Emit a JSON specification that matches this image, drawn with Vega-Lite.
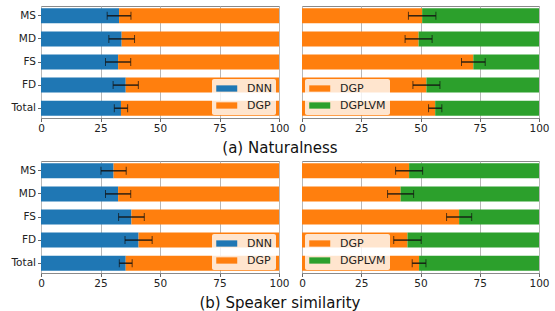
{
  "$schema": "https://vega.github.io/schema/vega-lite/v6.json",
  "padding": {"left": 10, "top": 5, "right": 10, "bottom": 3},
  "background": "white",
  "datasets": {
    "natL": [
      {"cat": "MS", "method": "DNN", "value": 32.8, "ord": 1}, {"cat": "MS", "method": "DGP", "value": 67.2, "ord": 2},
      {"cat": "MD", "method": "DNN", "value": 33.9, "ord": 1}, {"cat": "MD", "method": "DGP", "value": 66.1, "ord": 2},
      {"cat": "FS", "method": "DNN", "value": 32.4, "ord": 1}, {"cat": "FS", "method": "DGP", "value": 67.6, "ord": 2},
      {"cat": "FD", "method": "DNN", "value": 35.6, "ord": 1}, {"cat": "FD", "method": "DGP", "value": 64.4, "ord": 2},
      {"cat": "Total", "method": "DNN", "value": 33.6, "ord": 1}, {"cat": "Total", "method": "DGP", "value": 66.4, "ord": 2}
    ],
    "natLe": [
      {"cat": "MS", "pref": 32.8, "err": 5.0}, {"cat": "MD", "pref": 33.9, "err": 5.4},
      {"cat": "FS", "pref": 32.4, "err": 5.3}, {"cat": "FD", "pref": 35.6, "err": 5.3},
      {"cat": "Total", "pref": 33.6, "err": 2.8}
    ],
    "natR": [
      {"cat": "MS", "method": "DGP", "value": 50.7, "ord": 1}, {"cat": "MS", "method": "DGPLVM", "value": 49.3, "ord": 2},
      {"cat": "MD", "method": "DGP", "value": 49.2, "ord": 1}, {"cat": "MD", "method": "DGPLVM", "value": 50.8, "ord": 2},
      {"cat": "FS", "method": "DGP", "value": 72.3, "ord": 1}, {"cat": "FS", "method": "DGPLVM", "value": 27.7, "ord": 2},
      {"cat": "FD", "method": "DGP", "value": 52.5, "ord": 1}, {"cat": "FD", "method": "DGPLVM", "value": 47.5, "ord": 2},
      {"cat": "Total", "method": "DGP", "value": 56.2, "ord": 1}, {"cat": "Total", "method": "DGPLVM", "value": 43.8, "ord": 2}
    ],
    "natRe": [
      {"cat": "MS", "pref": 50.7, "err": 5.8}, {"cat": "MD", "pref": 49.2, "err": 5.7},
      {"cat": "FS", "pref": 72.3, "err": 5.0}, {"cat": "FD", "pref": 52.5, "err": 5.7},
      {"cat": "Total", "pref": 56.2, "err": 2.8}
    ],
    "simL": [
      {"cat": "MS", "method": "DNN", "value": 30.5, "ord": 1}, {"cat": "MS", "method": "DGP", "value": 69.5, "ord": 2},
      {"cat": "MD", "method": "DNN", "value": 32.4, "ord": 1}, {"cat": "MD", "method": "DGP", "value": 67.6, "ord": 2},
      {"cat": "FS", "method": "DNN", "value": 38.0, "ord": 1}, {"cat": "FS", "method": "DGP", "value": 62.0, "ord": 2},
      {"cat": "FD", "method": "DNN", "value": 41.0, "ord": 1}, {"cat": "FD", "method": "DGP", "value": 59.0, "ord": 2},
      {"cat": "Total", "method": "DNN", "value": 35.6, "ord": 1}, {"cat": "Total", "method": "DGP", "value": 64.4, "ord": 2}
    ],
    "simLe": [
      {"cat": "MS", "pref": 30.5, "err": 5.3}, {"cat": "MD", "pref": 32.4, "err": 5.3},
      {"cat": "FS", "pref": 38.0, "err": 5.4}, {"cat": "FD", "pref": 41.0, "err": 5.7},
      {"cat": "Total", "pref": 35.6, "err": 2.7}
    ],
    "simR": [
      {"cat": "MS", "method": "DGP", "value": 45.2, "ord": 1}, {"cat": "MS", "method": "DGPLVM", "value": 54.8, "ord": 2},
      {"cat": "MD", "method": "DGP", "value": 41.6, "ord": 1}, {"cat": "MD", "method": "DGPLVM", "value": 58.4, "ord": 2},
      {"cat": "FS", "method": "DGP", "value": 66.3, "ord": 1}, {"cat": "FS", "method": "DGPLVM", "value": 33.7, "ord": 2},
      {"cat": "FD", "method": "DGP", "value": 44.5, "ord": 1}, {"cat": "FD", "method": "DGPLVM", "value": 55.5, "ord": 2},
      {"cat": "Total", "method": "DGP", "value": 49.4, "ord": 1}, {"cat": "Total", "method": "DGPLVM", "value": 50.6, "ord": 2}
    ],
    "simRe": [
      {"cat": "MS", "pref": 45.2, "err": 5.7}, {"cat": "MD", "pref": 41.6, "err": 5.5},
      {"cat": "FS", "pref": 66.3, "err": 5.3}, {"cat": "FD", "pref": 44.5, "err": 5.8},
      {"cat": "Total", "pref": 49.4, "err": 2.9}
    ]
  },
  "vconcat": [
    {
      "title": {"text": "(a) Naturalness", "orient": "bottom", "anchor": "middle", "fontSize": 15, "fontWeight": "normal", "offset": 6, "color": "#111"},
      "hconcat": [
        {
          "width": 238, "height": 112,
          "layer": [
            {
              "data": {"name": "natL"},
              "mark": {"type": "bar"},
              "encoding": {
                "y": {"field": "cat", "type": "nominal", "sort": ["MS", "MD", "FS", "FD", "Total"], "scale": {"paddingInner": 0.35, "paddingOuter": 0.1}, "axis": {"grid": false}, "title": null},
                "x": {"field": "value", "type": "quantitative", "stack": "zero", "scale": {"domain": [0, 100], "nice": false}, "axis": {"values": [0, 25, 50, 75, 100], "grid": true, "labelFlush": false}, "title": null},
                "color": {"field": "method", "type": "nominal", "scale": {"domain": ["DNN", "DGP"], "range": ["#1f77b4", "#ff7f0e"]},
                  "legend": {"orient": "bottom-right", "offset": 3, "title": null, "fillColor": "rgba(255,255,255,0.8)", "padding": 4, "symbolType": "M-1,-0.6H3V0.6H-1Z", "symbolSize": 110, "symbolStrokeWidth": 0, "labelFontSize": 11, "labelOffset": 20, "rowPadding": 5, "cornerRadius": 2}},
                "order": {"field": "ord", "type": "quantitative"}
              }
            },
            {
              "data": {"name": "natLe"},
              "mark": {"type": "errorbar", "ticks": {"size": 8}, "color": "#111", "rule": {"strokeWidth": 1.3}},
              "encoding": {
                "y": {"field": "cat", "type": "nominal", "sort": ["MS", "MD", "FS", "FD", "Total"], "title": null},
                "x": {"field": "pref", "type": "quantitative", "title": null},
                "xError": {"field": "err"}
              }
            }
          ]
        },
        {
          "width": 237, "height": 112,
          "layer": [
            {
              "data": {"name": "natR"},
              "mark": {"type": "bar"},
              "encoding": {
                "y": {"field": "cat", "type": "nominal", "sort": ["MS", "MD", "FS", "FD", "Total"], "scale": {"paddingInner": 0.35, "paddingOuter": 0.1}, "axis": null},
                "x": {"field": "value", "type": "quantitative", "stack": "zero", "scale": {"domain": [0, 100], "nice": false}, "axis": {"values": [0, 25, 50, 75, 100], "grid": true, "labelFlush": false}, "title": null},
                "color": {"field": "method", "type": "nominal", "scale": {"domain": ["DGP", "DGPLVM"], "range": ["#ff7f0e", "#2ca02c"]},
                  "legend": {"orient": "bottom-left", "offset": 3, "title": null, "fillColor": "rgba(255,255,255,0.8)", "padding": 4, "symbolType": "M-1,-0.6H3V0.6H-1Z", "symbolSize": 110, "symbolStrokeWidth": 0, "labelFontSize": 11, "labelOffset": 20, "rowPadding": 5, "cornerRadius": 2}},
                "order": {"field": "ord", "type": "quantitative"}
              }
            },
            {
              "data": {"name": "natRe"},
              "mark": {"type": "errorbar", "ticks": {"size": 8}, "color": "#111", "rule": {"strokeWidth": 1.3}},
              "encoding": {
                "y": {"field": "cat", "type": "nominal", "sort": ["MS", "MD", "FS", "FD", "Total"], "axis": null},
                "x": {"field": "pref", "type": "quantitative", "title": null},
                "xError": {"field": "err"}
              }
            }
          ]
        }
      ],
      "spacing": 8,
      "resolve": {"scale": {"color": "independent", "y": "independent"}, "legend": {"color": "independent"}}
    },
    {
      "title": {"text": "(b) Speaker similarity", "orient": "bottom", "anchor": "middle", "fontSize": 15, "fontWeight": "normal", "offset": 6, "color": "#111"},
      "hconcat": [
        {
          "width": 238, "height": 112,
          "layer": [
            {
              "data": {"name": "simL"},
              "mark": {"type": "bar"},
              "encoding": {
                "y": {"field": "cat", "type": "nominal", "sort": ["MS", "MD", "FS", "FD", "Total"], "scale": {"paddingInner": 0.35, "paddingOuter": 0.1}, "axis": {"grid": false}, "title": null},
                "x": {"field": "value", "type": "quantitative", "stack": "zero", "scale": {"domain": [0, 100], "nice": false}, "axis": {"values": [0, 25, 50, 75, 100], "grid": true, "labelFlush": false}, "title": null},
                "color": {"field": "method", "type": "nominal", "scale": {"domain": ["DNN", "DGP"], "range": ["#1f77b4", "#ff7f0e"]},
                  "legend": {"orient": "bottom-right", "offset": 3, "title": null, "fillColor": "rgba(255,255,255,0.8)", "padding": 4, "symbolType": "M-1,-0.6H3V0.6H-1Z", "symbolSize": 110, "symbolStrokeWidth": 0, "labelFontSize": 11, "labelOffset": 20, "rowPadding": 5, "cornerRadius": 2}},
                "order": {"field": "ord", "type": "quantitative"}
              }
            },
            {
              "data": {"name": "simLe"},
              "mark": {"type": "errorbar", "ticks": {"size": 8}, "color": "#111", "rule": {"strokeWidth": 1.3}},
              "encoding": {
                "y": {"field": "cat", "type": "nominal", "sort": ["MS", "MD", "FS", "FD", "Total"], "title": null},
                "x": {"field": "pref", "type": "quantitative", "title": null},
                "xError": {"field": "err"}
              }
            }
          ]
        },
        {
          "width": 237, "height": 112,
          "layer": [
            {
              "data": {"name": "simR"},
              "mark": {"type": "bar"},
              "encoding": {
                "y": {"field": "cat", "type": "nominal", "sort": ["MS", "MD", "FS", "FD", "Total"], "scale": {"paddingInner": 0.35, "paddingOuter": 0.1}, "axis": null},
                "x": {"field": "value", "type": "quantitative", "stack": "zero", "scale": {"domain": [0, 100], "nice": false}, "axis": {"values": [0, 25, 50, 75, 100], "grid": true, "labelFlush": false}, "title": null},
                "color": {"field": "method", "type": "nominal", "scale": {"domain": ["DGP", "DGPLVM"], "range": ["#ff7f0e", "#2ca02c"]},
                  "legend": {"orient": "bottom-left", "offset": 3, "title": null, "fillColor": "rgba(255,255,255,0.8)", "padding": 4, "symbolType": "M-1,-0.6H3V0.6H-1Z", "symbolSize": 110, "symbolStrokeWidth": 0, "labelFontSize": 11, "labelOffset": 20, "rowPadding": 5, "cornerRadius": 2}},
                "order": {"field": "ord", "type": "quantitative"}
              }
            },
            {
              "data": {"name": "simRe"},
              "mark": {"type": "errorbar", "ticks": {"size": 8}, "color": "#111", "rule": {"strokeWidth": 1.3}},
              "encoding": {
                "y": {"field": "cat", "type": "nominal", "sort": ["MS", "MD", "FS", "FD", "Total"], "axis": null},
                "x": {"field": "pref", "type": "quantitative", "title": null},
                "xError": {"field": "err"}
              }
            }
          ]
        }
      ],
      "spacing": 8,
      "resolve": {"scale": {"color": "independent", "y": "independent"}, "legend": {"color": "independent"}}
    }
  ],
  "spacing": 4,
  "config": {
    "font": "DejaVu Sans",
    "view": {"stroke": "#8a8a8a", "strokeWidth": 1},
    "axis": {"labelFontSize": 10.5, "labelColor": "#222", "tickColor": "#666", "tickSize": 3.5, "labelPadding": 2, "domain": false, "title": null, "gridColor": "#b8b8b8", "gridWidth": 1},
    "legend": {"labelFont": "DejaVu Sans", "labelColor": "#222"}
  }
}
